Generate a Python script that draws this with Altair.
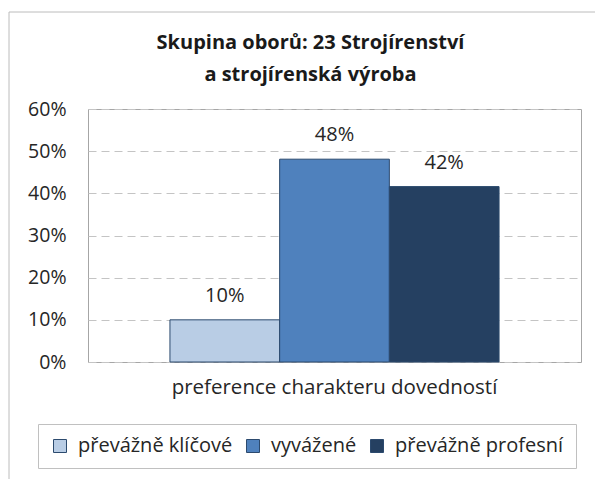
import altair as alt
import pandas as pd

categories = ["preference charakteru dovedností"]
series = ["převážně klíčové", "vyvážené", "převážně profesní"]
values = [0.10, 0.481, 0.416]
colors = ["#b9cde5", "#4f81bd", "#254061"]
title_lines = ["Skupina oborů: 23 Strojírenství", "a strojírenská výroba"]
y_ticks = [0, 0.1, 0.2, 0.3, 0.4, 0.5, 0.6]

df = pd.DataFrame({
    "kategorie": categories * len(series),
    "serie": series,
    "hodnota": values,
})
frame_df = pd.DataFrame({"a": [0]})

FONT = "Open Sans"
TXT = "#262626"

x = alt.X(
    "kategorie:N", title=None,
    scale=alt.Scale(paddingOuter=0.249, paddingInner=0),
    axis=alt.Axis(labelFontSize=20.5, labelFont=FONT, labelColor=TXT, ticks=False,
                  domain=False, labelPadding=15, labelAngle=0, labelLimit=0, grid=False),
)
xoff = alt.XOffset("serie:N", sort=series, scale=alt.Scale(paddingInner=0, paddingOuter=0))
y = alt.Y(
    "hodnota:Q", title=None,
    scale=alt.Scale(domain=[0, 0.6], nice=False),
    axis=alt.Axis(values=y_ticks, format=".0%", labelFontSize=19.5, labelFont=FONT,
                  labelColor=TXT, ticks=False, domain=False, labelPadding=22,
                  grid=True, gridDash=[8, 5], gridColor="#c4c4c4", gridWidth=1),
)
color = alt.Color(
    "serie:N", sort=series,
    scale=alt.Scale(domain=series, range=colors),
    legend=alt.Legend(orient="none", legendX=-50, legendY=315, direction="horizontal",
                      title=None, symbolType="square", symbolSize=169,
                      symbolStrokeColor="#2c4a6e", symbolStrokeWidth=1,
                      labelFontSize=20, labelFont=FONT, labelColor=TXT, labelOffset=8,
                      columnPadding=10, padding=12, strokeColor="#c0c0c0", labelLimit=0),
)

bars = alt.Chart(df).mark_bar(stroke="#2c4a6e", strokeWidth=1).encode(
    x=x, xOffset=xoff, y=y, color=color
)
labels = alt.Chart(df).mark_text(dy=-18, baseline="alphabetic", fontSize=20, font=FONT,
                                  color=TXT).encode(
    x=x, xOffset=xoff, y=y, text=alt.Text("hodnota:Q", format=".0%")
)
frame_left = alt.Chart(frame_df).mark_rule(color="#bcbcbc", strokeWidth=1).encode(
    x=alt.value(-79), y=alt.value(-97), y2=alt.value(420)
)
frame_top = alt.Chart(frame_df).mark_rule(color="#bcbcbc", strokeWidth=1).encode(
    x=alt.value(-79), x2=alt.value(620), y=alt.value(-97)
)

chart = alt.layer(frame_left, frame_top, bars, labels).properties(
    width=493, height=253,
    padding={"left": 80, "top": 101, "right": 14, "bottom": 117},
    autosize=alt.AutoSizeParams(type="none"),
    title=alt.TitleParams(text=title_lines, fontSize=20, font=FONT, fontWeight="bold",
                          color="#1a1a1a", anchor="middle", dx=-24, dy=97, offset=24,
                          lineHeight=32),
).configure_view(stroke="#a6a6a6", strokeWidth=1)

chart.save("out.html", embed_options={"renderer": "svg", "actions": False})
